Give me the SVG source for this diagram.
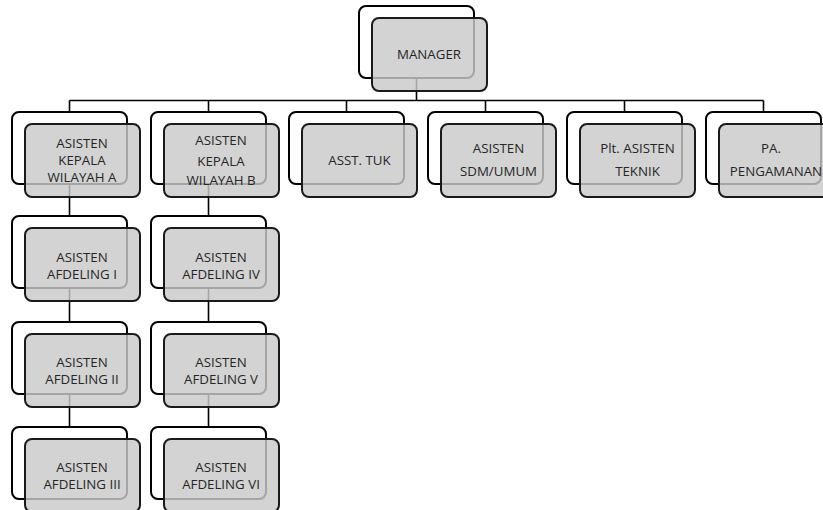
<svg xmlns="http://www.w3.org/2000/svg" width="823" height="510" viewBox="0 0 823 510">
<defs>
<style>
.back{fill:#ffffff;stroke:#000;stroke-width:2}
.front{fill:#c9c9c9;fill-opacity:0.82;stroke:#1a1a1a;stroke-width:2}
.t{font-family:"Open Sans","Liberation Sans",sans-serif;font-size:13.3px;fill:#262626;text-anchor:middle}
.c{stroke:#000;stroke-width:1.6;fill:none}
</style>
</defs>
<rect width="823" height="510" fill="#fff"/>
<g id="connectors">
<line class="c" x1="416.5" y1="78" x2="416.5" y2="100.5"/>
<line class="c" x1="69.5" y1="100.5" x2="763.5" y2="100.5"/>
<line class="c" x1="69.5" y1="100.5" x2="69.5" y2="112"/>
<line class="c" x1="208.5" y1="100.5" x2="208.5" y2="112"/>
<line class="c" x1="346.5" y1="100.5" x2="346.5" y2="112"/>
<line class="c" x1="485.5" y1="100.5" x2="485.5" y2="112"/>
<line class="c" x1="624.5" y1="100.5" x2="624.5" y2="112"/>
<line class="c" x1="763.5" y1="100.5" x2="763.5" y2="112"/>
<line class="c" x1="69.5" y1="184" x2="69.5" y2="216"/>
<line class="c" x1="69.5" y1="288" x2="69.5" y2="322"/>
<line class="c" x1="69.5" y1="394" x2="69.5" y2="427"/>
<line class="c" x1="208.5" y1="184" x2="208.5" y2="216"/>
<line class="c" x1="208.5" y1="288" x2="208.5" y2="322"/>
<line class="c" x1="208.5" y1="394" x2="208.5" y2="427"/>
</g>
<g id="manager">
<rect class="back" x="359" y="6" width="115" height="72" rx="7"/>
<rect class="front" x="372" y="18" width="115" height="73" rx="7"/>
<text class="t" x="429" y="59">MANAGER</text>
</g>
<g id="wilayah-a">
<rect class="back" x="12" y="112" width="115" height="72" rx="7"/>
<rect class="front" x="25" y="124" width="115" height="73" rx="7"/>
<text class="t" x="82" y="148">ASISTEN</text>
<text class="t" x="82" y="165">KEPALA</text>
<text class="t" x="82" y="182">WILAYAH A</text>
</g>
<g id="wilayah-b">
<rect class="back" x="151" y="112" width="115" height="72" rx="7"/>
<rect class="front" x="164" y="124" width="115" height="73" rx="7"/>
<text class="t" x="221" y="145">ASISTEN</text>
<text class="t" x="221" y="166">KEPALA</text>
<text class="t" x="221" y="185">WILAYAH B</text>
</g>
<g id="asst-tuk">
<rect class="back" x="289" y="112" width="115" height="72" rx="7"/>
<rect class="front" x="302" y="124" width="115" height="73" rx="7"/>
<text class="t" x="359.5" y="165">ASST. TUK</text>
</g>
<g id="sdm-umum">
<rect class="back" x="428" y="112" width="115" height="72" rx="7"/>
<rect class="front" x="441" y="124" width="115" height="73" rx="7"/>
<text class="t" x="498.5" y="153">ASISTEN</text>
<text class="t" x="498.5" y="176">SDM/UMUM</text>
</g>
<g id="teknik">
<rect class="back" x="567" y="112" width="115" height="72" rx="7"/>
<rect class="front" x="580" y="124" width="115" height="73" rx="7"/>
<text class="t" x="637.5" y="153">Plt. ASISTEN</text>
<text class="t" x="637.5" y="176">TEKNIK</text>
</g>
<g id="pengamanan">
<rect class="back" x="706" y="112" width="115" height="72" rx="7"/>
<rect class="front" x="719" y="124" width="115" height="73" rx="7"/>
<text class="t" x="771" y="153">PA.</text>
<text class="t" x="776" y="176">PENGAMANAN</text>
</g>
<g id="afdeling-1">
<rect class="back" x="12" y="216" width="115" height="72" rx="7"/>
<rect class="front" x="25" y="228" width="115" height="73" rx="7"/>
<text class="t" x="82" y="262">ASISTEN</text>
<text class="t" x="82" y="279">AFDELING I</text>
</g>
<g id="afdeling-2">
<rect class="back" x="12" y="322" width="115" height="72" rx="7"/>
<rect class="front" x="25" y="334" width="115" height="73" rx="7"/>
<text class="t" x="82" y="367">ASISTEN</text>
<text class="t" x="82" y="384">AFDELING II</text>
</g>
<g id="afdeling-3">
<rect class="back" x="12" y="427" width="115" height="72" rx="7"/>
<rect class="front" x="25" y="439" width="115" height="73" rx="7"/>
<text class="t" x="82" y="472">ASISTEN</text>
<text class="t" x="82" y="489">AFDELING III</text>
</g>
<g id="afdeling-4">
<rect class="back" x="151" y="216" width="115" height="72" rx="7"/>
<rect class="front" x="164" y="228" width="115" height="73" rx="7"/>
<text class="t" x="221" y="262">ASISTEN</text>
<text class="t" x="221" y="279">AFDELING IV</text>
</g>
<g id="afdeling-5">
<rect class="back" x="151" y="322" width="115" height="72" rx="7"/>
<rect class="front" x="164" y="334" width="115" height="73" rx="7"/>
<text class="t" x="221" y="367">ASISTEN</text>
<text class="t" x="221" y="384">AFDELING V</text>
</g>
<g id="afdeling-6">
<rect class="back" x="151" y="427" width="115" height="72" rx="7"/>
<rect class="front" x="164" y="439" width="115" height="73" rx="7"/>
<text class="t" x="221" y="472">ASISTEN</text>
<text class="t" x="221" y="489">AFDELING VI</text>
</g>
</svg>
